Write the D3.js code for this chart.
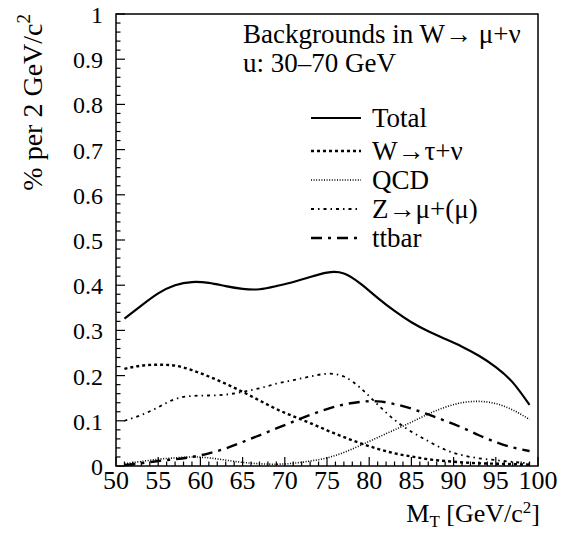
<!DOCTYPE html>
<html><head><meta charset="utf-8">
<script src="https://cdn.jsdelivr.net/npm/d3@7"></script>
<style>body{margin:0;background:#fff}svg{display:block}</style>
</head><body>
<script>
const mt = [51,53,55,57,59,61,63,65,67,69,71,73,75,77,79,81,83,85,87,89,91,93,95,97,99];
const total = [0.326,0.355,0.382,0.400,0.407,0.405,0.398,0.392,0.391,0.398,0.407,0.418,0.428,0.426,0.403,0.372,0.343,0.318,0.298,0.281,0.264,0.244,0.219,0.185,0.135];
const wtau  = [0.215,0.222,0.224,0.222,0.212,0.198,0.182,0.164,0.145,0.126,0.110,0.095,0.079,0.064,0.050,0.038,0.028,0.021,0.015,0.011,0.008,0.006,0.005,0.004,0.003];
const qcd   = [0.005,0.010,0.015,0.018,0.020,0.018,0.013,0.008,0.005,0.004,0.006,0.011,0.018,0.030,0.046,0.063,0.080,0.097,0.115,0.130,0.140,0.143,0.138,0.124,0.103];
const zmumu = [0.100,0.113,0.130,0.148,0.155,0.156,0.158,0.164,0.172,0.182,0.190,0.198,0.204,0.198,0.172,0.136,0.102,0.076,0.055,0.036,0.024,0.017,0.013,0.009,0.006];
const ttbar = [0.002,0.006,0.011,0.015,0.020,0.028,0.039,0.053,0.068,0.083,0.098,0.113,0.126,0.136,0.142,0.143,0.137,0.127,0.114,0.100,0.085,0.068,0.053,0.041,0.033];
const xTicks = [50,55,60,65,70,75,80,85,90,95,100];
const yTicks = [0,0.1,0.2,0.3,0.4,0.5,0.6,0.7,0.8,0.9,1];
const yTickLabels = ["0","0.1","0.2","0.3","0.4","0.5","0.6","0.7","0.8","0.9","1"];
const seriesNames = ["Total","W\u2192\u03C4+\u03BD","QCD","Z\u2192\u03BC+(\u03BC)","ttbar"];

const W = 571, H = 533;
const L = 116, R = 538, T = 14, B = 466;
const FONT = "'Liberation Serif', 'Times New Roman', Times, serif";
const svg = d3.select("body").append("svg").attr("width", W).attr("height", H)
  .attr("font-family", FONT);
const x = d3.scaleLinear().domain([50,100]).range([L,R]);
const y = d3.scaleLinear().domain([0,1]).range([B,T]);

const styles = [
  {w:2.2, dash:null},
  {w:2.4, dash:"3,3"},
  {w:1.6, dash:"1,1.6"},
  {w:1.8, dash:"3,4,1.5,4"},
  {w:2.4, dash:"11,6,3,6"}
];
const series = [total, wtau, qcd, zmumu, ttbar];

// frame
svg.append("rect").attr("x",L).attr("y",T).attr("width",R-L).attr("height",B-T)
  .attr("fill","none").attr("stroke","#000").attr("stroke-width",1.5);

// y axis ticks (inward)
const yMinor = d3.range(0,51).map(i=>i*0.02);
svg.append("g").selectAll("line").data(yMinor).join("line")
  .attr("x1",L).attr("x2",(d,i)=> i%5===0 ? L+9 : L+4.5)
  .attr("y1",d=>y(d)).attr("y2",d=>y(d)).attr("stroke","#000").attr("stroke-width",1.2);
svg.append("g").selectAll("text").data(yTicks).join("text")
  .attr("x",L-13).attr("y",d=>y(d)+9).attr("text-anchor","end")
  .attr("font-size",24).text((d,i)=>yTickLabels[i]);

// x axis ticks (inward)
const xMinor = d3.range(50,101);
svg.append("g").selectAll("line").data(xMinor).join("line")
  .attr("y1",B).attr("y2",d=> d%5===0 ? B-9 : B-4.5)
  .attr("x1",d=>x(d)).attr("x2",d=>x(d)).attr("stroke","#000").attr("stroke-width",1.2);
svg.append("g").selectAll("text").data(xTicks).join("text")
  .attr("x",d=>x(d)).attr("y",B+23).attr("text-anchor","middle")
  .attr("font-size",26).text(d=>d);

// curves
const line = d3.line().x(d=>x(d[0])).y(d=>y(d[1])).curve(d3.curveNatural);
series.forEach((s,k)=>{
  svg.append("path").datum(mt.map((m,i)=>[m,s[i]])).attr("d",line)
    .attr("fill","none").attr("stroke","#000").attr("stroke-width",styles[k].w)
    .attr("stroke-dasharray",styles[k].dash);
});

// legend
svg.append("text").attr("x",243).attr("y",43).attr("font-size",27).text("Backgrounds in W\u2192 \u03BC+\u03BD");
svg.append("text").attr("x",243).attr("y",72).attr("font-size",27).text("u: 30\u201370 GeV");
const rowY = [118,151,180,209,238];
seriesNames.forEach((n,k)=>{
  svg.append("line").attr("x1",311).attr("x2",361).attr("y1",rowY[k]).attr("y2",rowY[k])
    .attr("stroke","#000").attr("stroke-width",styles[k].w).attr("stroke-dasharray",styles[k].dash);
  svg.append("text").attr("x",372).attr("y",rowY[k]+9).attr("font-size",27).text(n);
});

// axis titles
const xt = svg.append("text").attr("x",540).attr("y",522).attr("text-anchor","end").attr("font-size",26);
xt.append("tspan").text("M");
xt.append("tspan").attr("dy",5).attr("font-size",17).text("T");
xt.append("tspan").attr("dy",-5).text(" [GeV/c");
xt.append("tspan").attr("dy",-9).attr("font-size",17).text("2");
xt.append("tspan").attr("dy",9).text("]");

const yt = svg.append("text").attr("transform","translate(42,14) rotate(-90)").attr("text-anchor","end").attr("font-size",28);
yt.append("tspan").text("% per 2 GeV/c");
yt.append("tspan").attr("dy",-12).attr("font-size",19).text("2");
</script>
</body></html>
